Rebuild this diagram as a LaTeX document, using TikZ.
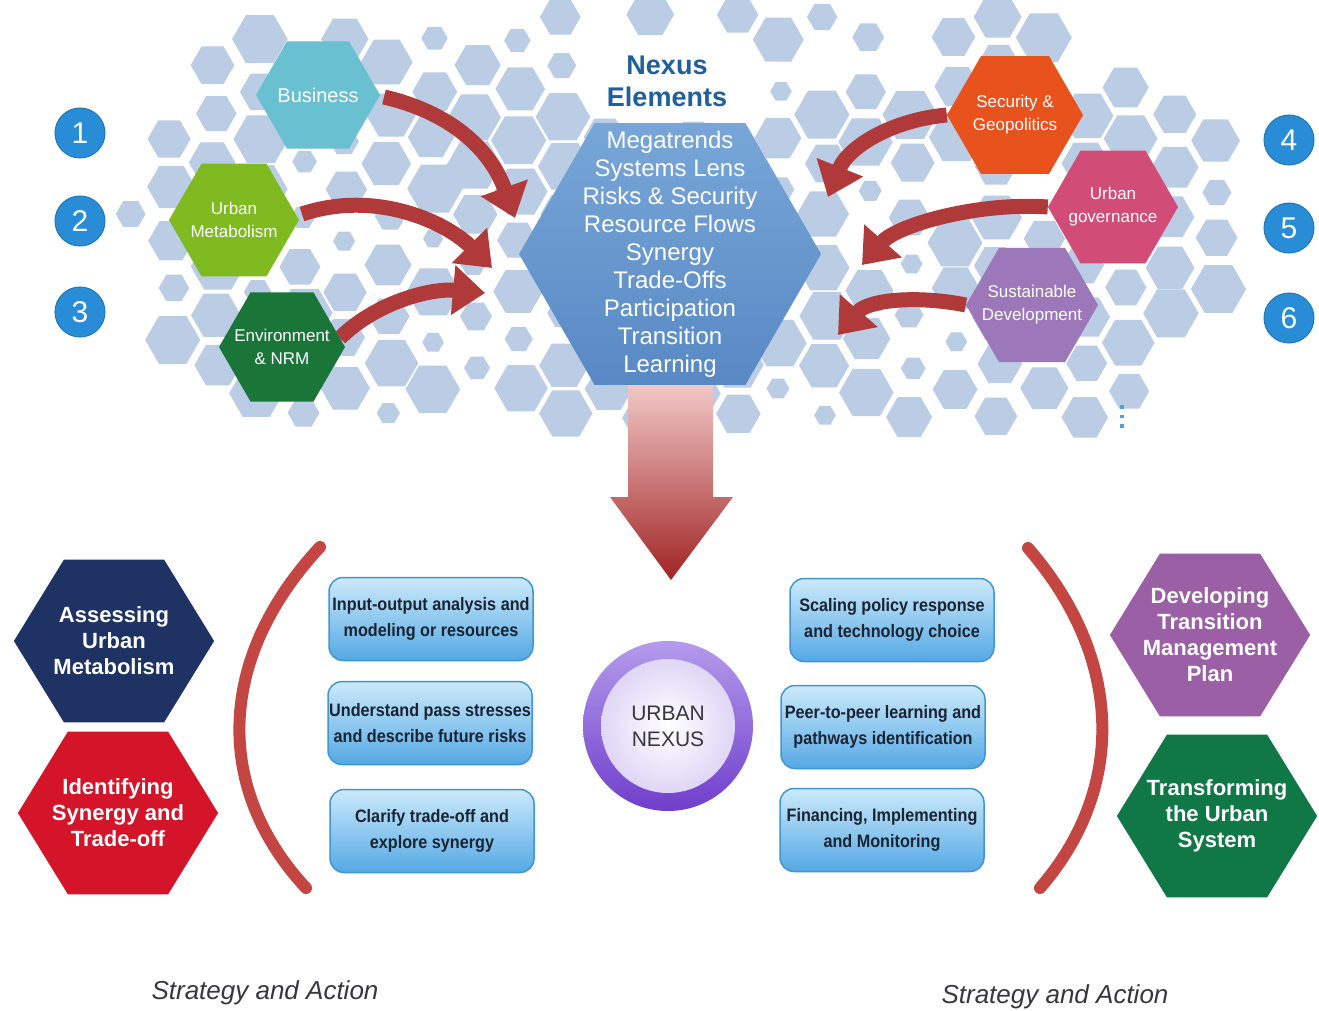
\documentclass[tikz,border=0pt]{standalone}
\usepackage{fontspec}
\setmainfont{Liberation Sans}
\newfontfamily\narrowfont[FakeStretch=0.9]{Liberation Sans}
\usetikzlibrary{shapes.geometric,arrows.meta,calc}

\definecolor{bgblue}{RGB}{186,205,228}
\definecolor{titleblue}{RGB}{31,95,155}
\definecolor{hextop}{RGB}{120,166,216}
\definecolor{hexbot}{RGB}{88,137,196}
\definecolor{businesscol}{RGB}{104,192,208}
\definecolor{urbmetcol}{RGB}{126,186,32}
\definecolor{envcol}{RGB}{26,118,56}
\definecolor{securitycol}{RGB}{232,82,28}
\definecolor{govcol}{RGB}{210,76,120}
\definecolor{sustcol}{RGB}{156,120,186}
\definecolor{numblue}{RGB}{40,140,215}
\definecolor{arrowred}{RGB}{176,58,58}
\definecolor{downtop}{RGB}{246,208,208}
\definecolor{downbot}{RGB}{160,36,36}
\definecolor{assesscol}{RGB}{30,50,100}
\definecolor{identcol}{RGB}{212,20,40}
\definecolor{developcol}{RGB}{155,95,166}
\definecolor{transcol}{RGB}{16,120,70}
\definecolor{bracketred}{RGB}{196,70,66}
\definecolor{boxtop}{RGB}{204,234,251}
\definecolor{boxbot}{RGB}{84,168,228}
\definecolor{boxline}{RGB}{62,150,212}
\definecolor{boxtext}{RGB}{25,35,50}
\definecolor{ringtop}{RGB}{180,155,236}
\definecolor{ringbot}{RGB}{112,62,204}
\definecolor{discedge}{RGB}{224,214,246}
\definecolor{graytext}{RGB}{55,55,62}

\newcommand{\bghex}[3]{\fill[bgblue] (#1,#2) +(0:#3) -- +(60:#3) -- +(120:#3) -- +(180:#3) -- +(240:#3) -- +(300:#3) -- cycle;}

\tikzset{
  hexnode/.style={regular polygon, regular polygon sides=6, inner sep=0pt},
  smallhex/.style={hexnode, minimum size=#1},
  bighex/.style={hexnode, minimum size=188, xscale=1.065, transform shape},
  hextext/.style={text=white, align=center, inner sep=0pt, font=\fontsize{17}{23}\selectfont},
  bigtext/.style={text=white, align=center, inner sep=0pt, font=\bfseries\fontsize{22}{26}\selectfont},
  numdot/.style={circle, fill=numblue, draw=numblue!85!black, line width=1pt, minimum size=50, inner sep=0pt, text=white, font=\fontsize{30}{30}\selectfont},
  fatarrow/.style={draw=arrowred, line width=15pt, -{Triangle[length=32pt,width=48pt]}},
  actionbox/.style={rectangle, rounded corners=14pt, draw=boxline, line width=1.5pt, top color=boxtop, bottom color=boxbot, minimum width=204, minimum height=83, inner sep=0pt, align=center, text=boxtext, font=\narrowfont\bfseries\fontsize{18}{26}\selectfont},
  bracket/.style={draw=bracketred, line width=12pt, line cap=round},
}

\begin{document}
\begin{tikzpicture}[x=1pt,y=-1pt]
\useasboundingbox (0,0) rectangle (1319,1011);
\fill[white] (0,0) rectangle (1319,1011);

% honeycomb behind the nexus elements
\pgfmathsetseed{12}
\foreach \i in {0,...,26}{
  \foreach \j in {0,...,9}{
    \pgfmathsetmacro\hx{128+\i*43.5+3*rand}
    \pgfmathsetmacro\hy{14+\j*50.2+mod(\i,2)*25.1+3*rand}
    \pgfmathsetmacro\hr{rnd<0.3 ? 10+6*rnd : 20+8*rnd}
    \pgfmathtruncatemacro\keep{and(or(or((((\hx-350)/225)^2+((\hy-225)/212)^2)<1, (((\hx-985)/255)^2+((\hy-225)/212)^2)<1), and(and(\hx>480,\hx<860),and(\hy>12,\hy<432))), and(not(and(and(\hx>580,\hx<755),and(\hy>28,\hy<120))), rnd>0.05))}
    \ifnum\keep=1 \bghex{\hx}{\hy}{\hr}\fi
  }
}

% down arrow to the urban nexus
\shade[top color=downtop, bottom color=downbot] (628,375) -- (628,497) -- (610,497) -- (671,580) -- (733,497) -- (713,497) -- (713,375) -- cycle;

% nexus elements
\node[hexnode, minimum size=302, top color=hextop, bottom color=hexbot] (elements) at (670,254) {};
\node[text=white, align=center, font=\fontsize{24}{28}\selectfont] (elementlist) at (elements.center) {Megatrends\\Systems Lens\\Risks \& Security\\Resource Flows\\Synergy\\Trade-Offs\\Participation\\Transition\\Learning};
\node[text=titleblue, align=center, font=\bfseries\fontsize{27}{32}\selectfont] (nexustitle) at (667,81) {Nexus\\Elements};

% arrow tips
\coordinate (tipA) at (515,218);
\coordinate (tipB) at (492,268);
\coordinate (tipC) at (485,293);
\coordinate (tipD) at (828,197);
\coordinate (tipE) at (862,265);
\coordinate (tipF) at (838,335);

\draw[fatarrow] (384,97) .. controls +(65,15) and +(-25,-70) .. (tipA);
\draw[fatarrow] (302,214) .. controls +(75,-25) and +(-45,-45) .. (tipB);
\draw[fatarrow] (340,338) .. controls +(35,-35) and +(-55,-5) .. (tipC);

\node[smallhex=124, fill=businesscol] (business) at (318,95) {};
\node[smallhex=130, fill=urbmetcol] (urbmet) at (234,220) {};
\node[smallhex=126, fill=envcol] (envnrm) at (282,347) {};
\node[smallhex=136, fill=securitycol] (security) at (1015,115) {};
\node[smallhex=130, fill=govcol] (governance) at (1113,207) {};
\node[smallhex=132, fill=sustcol] (sustdev) at (1032,305) {};

\draw[fatarrow] (security.west) .. controls +(-55,5) and +(20,-50) .. (tipD);
\draw[fatarrow] (governance.west) .. controls +(-70,-5) and +(35,-40) .. (tipE);
\draw[fatarrow] (sustdev.west) .. controls +(-50,-10) and +(30,-35) .. (tipF);

\node[hextext, font=\fontsize{20}{24}\selectfont] (business-txt) at (business) {Business};
\node[hextext] (urbmet-txt) at (urbmet) {Urban\\Metabolism};
\node[hextext] (envnrm-txt) at (envnrm) {Environment\\\& NRM};
\node[hextext] (security-txt) at (security) {Security \&\\Geopolitics};
\node[hextext] (governance-txt) at (governance) {Urban\\governance};
\node[hextext] (sustdev-txt) at (sustdev) {Sustainable\\Development};

\node[numdot] (n1) at (80,133) {1};
\node[numdot] (n2) at (80,221) {2};
\node[numdot] (n3) at (80,312) {3};
\node[numdot] (n4) at (1289,140) {4};
\node[numdot] (n5) at (1289,228) {5};
\node[numdot] (n6) at (1289,318) {6};

\draw[numblue!70!bgblue, line width=3.5pt, dash pattern=on 3.5pt off 6pt] (1122,405) -- (1122,432);

% strategy and action
\node[bighex, fill=assesscol] (assess) at (114,641) {};
\node[bighex, fill=identcol] (identify) at (118,813) {};
\node[bighex, fill=developcol] (develop) at (1210,635) {};
\node[bighex, fill=transcol] (transform) at (1217,816) {};
\node[bigtext] (assess-txt) at (assess) {Assessing\\Urban\\Metabolism};
\node[bigtext] (identify-txt) at (identify) {Identifying\\Synergy and\\Trade-off};
\node[bigtext] (develop-txt) at (develop) {Developing\\Transition\\Management\\Plan};
\node[bigtext] (transform-txt) at (transform) {Transforming\\the Urban\\System};

\draw[bracket] (320,547) .. controls (215,660) and (215,790) .. (306,888);
\draw[bracket] (1028,548) .. controls (1125,660) and (1125,790) .. (1040,888);

\node[actionbox] (boxA) at (431,619) {Input-output analysis and\\modeling or resources};
\node[actionbox] (boxB) at (430,723) {Understand pass stresses\\and describe future risks};
\node[actionbox] (boxC) at (432,831) {Clarify trade-off and\\explore synergy};
\node[actionbox] (boxD) at (892,620) {Scaling policy response\\and technology choice};
\node[actionbox] (boxE) at (883,727) {Peer-to-peer learning and\\pathways identification};
\node[actionbox] (boxF) at (882,830) {Financing, Implementing\\and Monitoring};

\node[circle, minimum size=170, inner sep=0pt, top color=ringtop, bottom color=ringbot] (ring) at (668,726) {};
\node[circle, minimum size=134, inner sep=0pt, inner color=white, outer color=discedge, align=center, text=graytext, font=\fontsize{21}{26}\selectfont] (unexus) at (ring.center) {URBAN\\NEXUS};

\node[text=graytext, font=\itshape\fontsize{26}{30}\selectfont] (stratL) at (265,993) {Strategy and Action};
\node[text=graytext, font=\itshape\fontsize{26}{30}\selectfont] (stratR) at (1055,997) {Strategy and Action};
\end{tikzpicture}
\end{document}
